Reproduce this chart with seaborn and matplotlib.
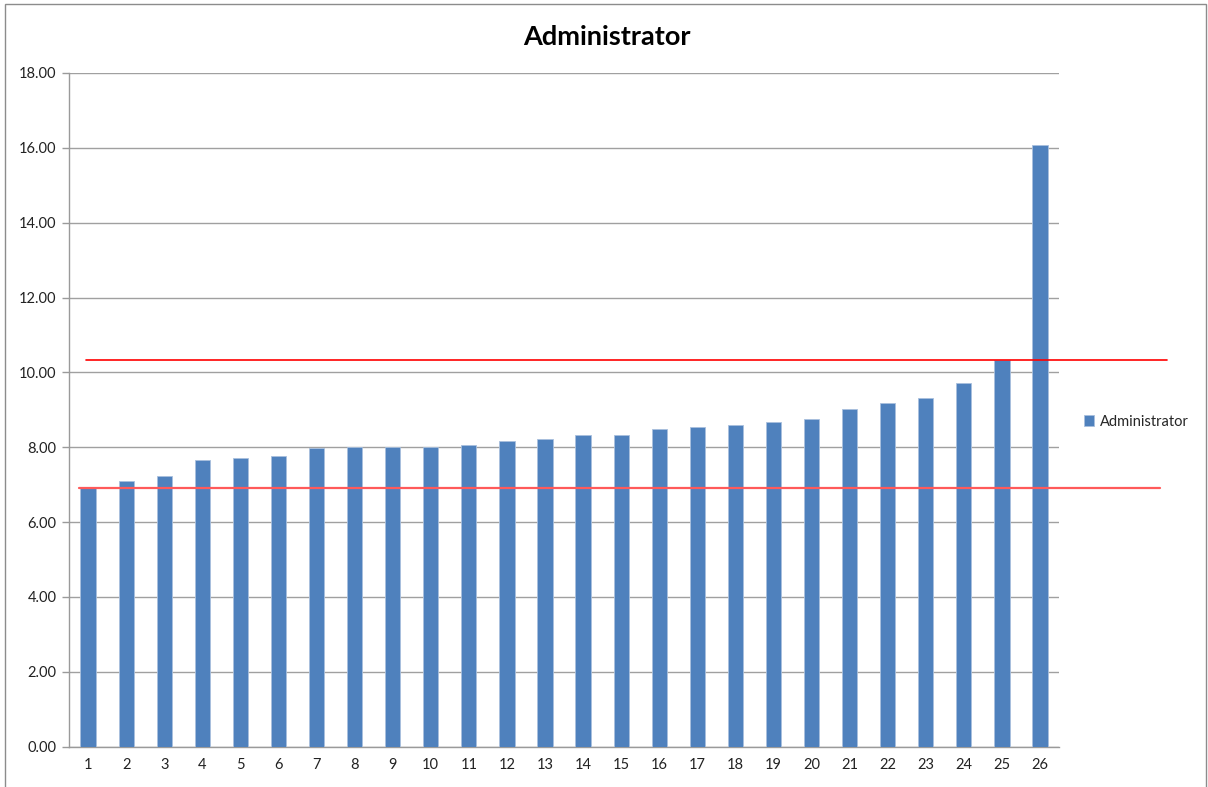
import matplotlib
matplotlib.use("Agg")
import matplotlib.pyplot as plt
from matplotlib.patches import Rectangle
import pandas as pd
import seaborn as sns

# values
ranks = [str(i) for i in range(1, 27)]
scores = [6.91, 7.09, 7.22, 7.66, 7.72, 7.78, 7.97, 8.00, 8.00, 8.02,
          8.05, 8.17, 8.21, 8.32, 8.33, 8.50, 8.53, 8.60, 8.67, 8.76,
          9.01, 9.18, 9.32, 9.72, 10.34, 16.08]
series_name = "Administrator"
lower_ref = 6.91
upper_ref = 10.33
y_ticks = [0, 2, 4, 6, 8, 10, 12, 14, 16, 18]

df = pd.DataFrame({"rank": ranks, "score": scores, "series": series_name})

sns.set_theme(style="white")
plt.rcParams["font.family"] = ["Lato", "DejaVu Sans"]

fig = plt.figure(figsize=(12.08, 7.87), dpi=100)
ax = fig.add_axes([69 / 1208, 1 - 746.7 / 787, 990 / 1208, 673.7 / 787])

sns.barplot(data=df, x="rank", y="score", hue="series", palette=["#4F81BD"],
            width=0.4, edgecolor="#A9C0DE", linewidth=0.6, saturation=1,
            ax=ax, zorder=3)

ax.set_xlim(-0.5, len(ranks) - 0.5)
ax.set_ylim(0, 18)
ax.set_yticks(y_ticks)
ax.set_yticklabels([f"{v:.2f}" for v in y_ticks])
ax.set_xlabel("")
ax.set_ylabel("")
ax.yaxis.grid(True, color="#A0A0A0", linewidth=1, zorder=0)
ax.set_axisbelow(True)

for s in ["top", "right"]:
    ax.spines[s].set_visible(False)
for s in ["left", "bottom"]:
    ax.spines[s].set_color("#9A9A9A")
    ax.spines[s].set_linewidth(1)

# ticks between categories, like Excel
ax.set_xticks([i - 0.5 for i in range(len(ranks) + 1)], minor=True)
ax.tick_params(axis="x", which="major", length=0, pad=8, labelsize=10.5, labelcolor="#222222")
ax.tick_params(axis="x", which="minor", length=5, width=1, color="#9A9A9A", direction="out")
ax.tick_params(axis="y", which="major", length=5, width=1, color="#9A9A9A", direction="out",
               labelsize=10.5, labelcolor="#222222", pad=4, left=True)

# reference lines drawn across the plot
ax.axhline(upper_ref, xmin=17 / 990, xmax=1098 / 990, color="#FF0000",
           linewidth=1.2, clip_on=False, zorder=5)
ax.axhline(lower_ref, xmin=10 / 990, xmax=1091 / 990, color="#FF5A5A",
           linewidth=1.6, clip_on=False, zorder=5)

fig.text(0.5025, 1 - 37 / 787, "Administrator", ha="center", va="center",
         fontsize=19.5, fontweight="bold", color="#000000")

ax.legend(loc="center left", bbox_to_anchor=(1078 / 1208, 1 - 421.7 / 787),
          bbox_transform=fig.transFigure, frameon=False, fontsize=10.5,
          handlelength=0.7, handleheight=0.7, handletextpad=0.4, borderaxespad=0)

# outer chart frame
fig.patches.append(Rectangle((5 / 1208, -0.01), 1201 / 1208, 1 - 4 / 787 + 0.01,
                             transform=fig.transFigure, fill=False,
                             edgecolor="#8C8C8C", linewidth=1))

fig.savefig("out.png", dpi=100)
